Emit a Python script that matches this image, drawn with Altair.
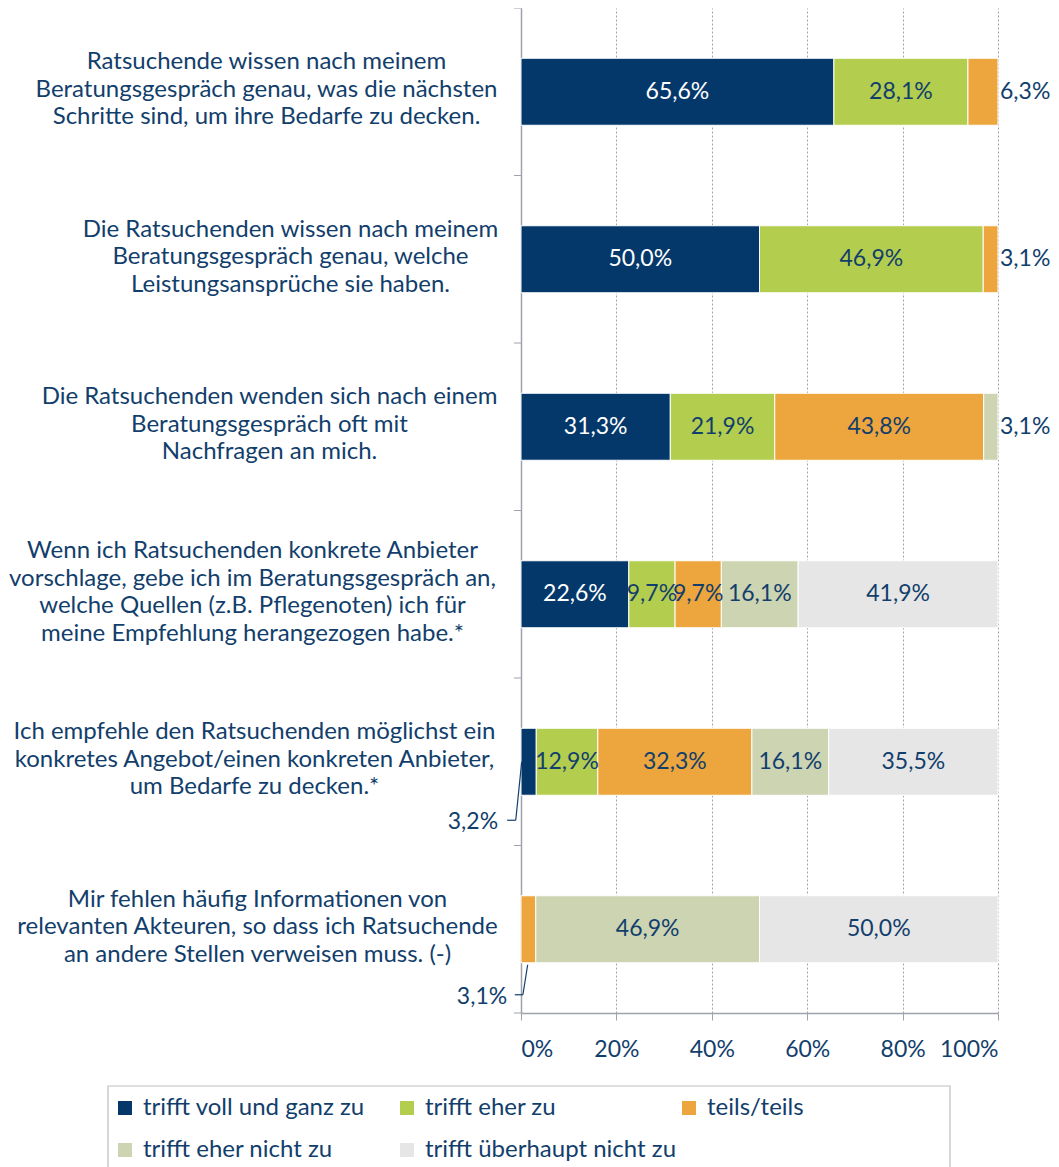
import json
import altair as alt
import pandas as pd

categories = [
    "Ratsuchende wissen nach meinem|Beratungsgespräch genau, was die nächsten|Schritte sind, um ihre Bedarfe zu decken.",
    "Die Ratsuchenden wissen nach meinem|Beratungsgespräch genau, welche|Leistungsansprüche sie haben.",
    "Die Ratsuchenden wenden sich nach einem|Beratungsgespräch oft mit|Nachfragen an mich.",
    "Wenn ich Ratsuchenden konkrete Anbieter|vorschlage, gebe ich im Beratungsgespräch an,|welche Quellen (z.B. Pflegenoten) ich für|meine Empfehlung herangezogen habe.*",
    "Ich empfehle den Ratsuchenden möglichst ein|konkretes Angebot/einen konkreten Anbieter,|um Bedarfe zu decken.*",
    "Mir fehlen häufig Informationen von|relevanten Akteuren, so dass ich Ratsuchende|an andere Stellen verweisen muss. (-)",
]

series = [
    "trifft voll und ganz zu",
    "trifft eher zu",
    "teils/teils",
    "trifft eher nicht zu",
    "trifft überhaupt nicht zu",
]

voll_und_ganz = [65.6, 50.0, 31.3, 22.6, 3.2, 0.0]
eher = [28.1, 46.9, 21.9, 9.7, 12.9, 0.0]
teils = [6.3, 3.1, 43.8, 9.7, 32.3, 3.1]
eher_nicht = [0.0, 0.0, 3.1, 16.1, 16.1, 46.9]
ueberhaupt_nicht = [0.0, 0.0, 0.0, 41.9, 35.5, 50.0]

colors = ["#04386B", "#B3CD4E", "#EDA63D", "#CCD4B2", "#E6E6E6"]
TEXT = "#123E6C"
AXIS = "#9EA2AD"
FONT = "Lato"
FS = 23
FS_CAT = 24
LINE_H = 27.5

# labels drawn to the right of the bar / with a leader line
outside_right = [(0, "teils/teils"), (1, "teils/teils"), (2, "trifft eher nicht zu")]
callouts = [(4, "trifft voll und ganz zu"), (5, "teils/teils")]

values = [voll_und_ganz, eher, teils, eher_nicht, ueberhaupt_nicht]
rows = []
for i, cat in enumerate(categories):
    start = 0.0
    for j, s in enumerate(series):
        v = values[j][i]
        if v <= 0:
            continue
        end = start + v
        if (i, s) in outside_right:
            place = "right"
        elif (i, s) in callouts:
            place = "callout"
        else:
            place = "in"
        rows.append({
            "cat": cat, "series": s, "start": start, "end": min(end, 100.0),
            "mid": (start + end) / 2, "value": v,
            "label": f"{v:.1f}".replace(".", ",") + "%",
            "place": place, "white": j == 0, "idx": i,
        })
        start = end
df = pd.DataFrame(rows)
cat_df = pd.DataFrame({"cat": categories, "idx": list(range(len(categories)))})

# horizontal centre of each (centre-aligned) category label block, px left of the axis
label_centre_pad = [255, 231, 252, 269, 267, 264]
label_pad_cond = {
    "condition": [{"test": f"datum.value == {json.dumps(c)}", "value": p}
                  for c, p in zip(categories, label_centre_pad)],
    "value": 257,
}
label_off_cond = {
    "condition": [{"test": f"datum.value == {json.dumps(c)}",
                   "value": -(len(c.split('|')) - 1) * LINE_H / 2 - 2}
                  for c in categories],
    "value": 0,
}

ysort = categories
yscale = alt.Scale(paddingInner=0.6, paddingOuter=0.3)
HALF_GAP = 50.25  # half of the inner band gap in px (1005/6 * 0.6 / 2)


def ycat(bp=None):
    kw = {} if bp is None else {"bandPosition": bp}
    return alt.Y("cat:N", sort=ysort, scale=yscale, title=None, **kw)


base = alt.Chart(df)

bars = base.mark_bar(stroke="white", strokeWidth=1).encode(
    x=alt.X("start:Q", scale=alt.Scale(domain=[0, 100], nice=False),
            axis=alt.Axis(values=[0, 20, 40, 60, 80, 100], labelExpr="datum.value + '%'",
                          grid=True, gridDash=[2, 2], gridColor="#9EA2AA", title=None,
                          tickSize=7, labelPadding=18, labelFontSize=FS)),
    x2="end:Q",
    y=alt.Y("cat:N", sort=ysort, scale=yscale, title=None,
            axis=alt.Axis(labelExpr="split(datum.label, '|')", labelAlign="center",
                          labelBaseline="middle", labelPadding=label_pad_cond,
                          labelOffset=label_off_cond, labelLimit=800,
                          labelLineHeight=LINE_H, labelFontSize=FS_CAT,
                          ticks=False, grid=False)),
    color=alt.Color("series:N", scale=alt.Scale(domain=series, range=colors),
                    legend=alt.Legend(title=None, orient="none", legendX=-418, legendY=1078,
                                      columns=3, direction="horizontal",
                                      symbolType="square", symbolSize=196,
                                      symbolStrokeWidth=0, labelOffset=6, gridAlign="all",
                                      columnPadding=-6, rowPadding=18, padding=10,
                                      labelLimit=400, labelFontSize=FS_CAT)),
    order=alt.Order("idx:Q"),
)

# category-axis ticks at the band boundaries
cats = alt.Chart(cat_df)
ticks_top = cats.mark_rule(color=AXIS, strokeWidth=1, yOffset=-HALF_GAP).encode(
    x=alt.datum(-1.47), x2=alt.datum(0), y=ycat(0))
ticks_end = cats.transform_filter(f"datum.idx == {len(categories) - 1}").mark_rule(
    color=AXIS, strokeWidth=1, yOffset=HALF_GAP).encode(
    x=alt.datum(-1.47), x2=alt.datum(0), y=ycat(1))

# legend frame
legend_frame = alt.Chart(pd.DataFrame({"k": [0]})).mark_rect(
    fill="white", stroke="#BFBFBF", strokeWidth=1.2).encode(
    x=alt.value(-413), x2=alt.value(429), y=alt.value(1078), y2=alt.value(1200))

lab_white = base.transform_filter("datum.place == 'in' && datum.white").mark_text(
    color="white", font=FONT, fontSize=FS, baseline="middle").encode(
    x="mid:Q", y=ycat(), text="label:N")
lab_dark = base.transform_filter("datum.place == 'in' && !datum.white").mark_text(
    color=TEXT, font=FONT, fontSize=FS, baseline="middle").encode(
    x="mid:Q", y=ycat(), text="label:N")
lab_right = base.transform_filter("datum.place == 'right'").mark_text(
    color=TEXT, font=FONT, fontSize=FS, baseline="middle", align="left", dx=2).encode(
    x=alt.datum(100), y=ycat(), text="label:N")

layers = [legend_frame, bars, ticks_top, ticks_end, lab_white, lab_dark, lab_right]

# leader-line callouts:
# (row, series, band pos of line start, px offset start, px offset elbow below bar,
#  x start, x elbow, x end, x text)
callout_geo = [
    (4, "trifft voll und ganz zu", 0.5, 0, 25, 0.15, -1.1, -2.9, -4.8),
    (5, "teils/teils", 1.0, 2, 32, 1.4, 0.4, -1.3, -2.9),
]
for (i, s, bp0, off0, off1, x0, x1, x2, xt) in callout_geo:
    sub = base.transform_filter(f"datum.idx == {i} && datum.series == '{s}'")
    diag = sub.mark_rule(color=TEXT, strokeWidth=1.2, yOffset=off0, y2Offset=off1).encode(
        x=alt.datum(x0), x2=alt.datum(x1), y=ycat(bp0),
        y2=alt.Y2("cat:N", bandPosition=1))
    horiz = sub.mark_rule(color=TEXT, strokeWidth=1.2, yOffset=off1).encode(
        x=alt.datum(x1), x2=alt.datum(x2), y=ycat(1))
    txt = sub.mark_text(color=TEXT, font=FONT, fontSize=FS, baseline="middle",
                        align="right", dy=off1 + 2).encode(
        x=alt.datum(xt), y=ycat(1), text="label:N")
    layers += [diag, horiz, txt]

chart = alt.layer(*layers).properties(
    width=477, height=1005,
    autosize=alt.AutoSizeParams(type="none"),
    padding={"left": 513, "top": 0, "right": 53, "bottom": 158},
).configure_view(stroke=None).configure_axis(
    labelFont=FONT, labelColor=TEXT,
    domainColor=AXIS, tickColor=AXIS, domainWidth=1.5,
).configure_legend(
    labelFont=FONT, labelColor=TEXT,
)

chart.save("out.html", embed_options={"renderer": "svg", "actions": False})
